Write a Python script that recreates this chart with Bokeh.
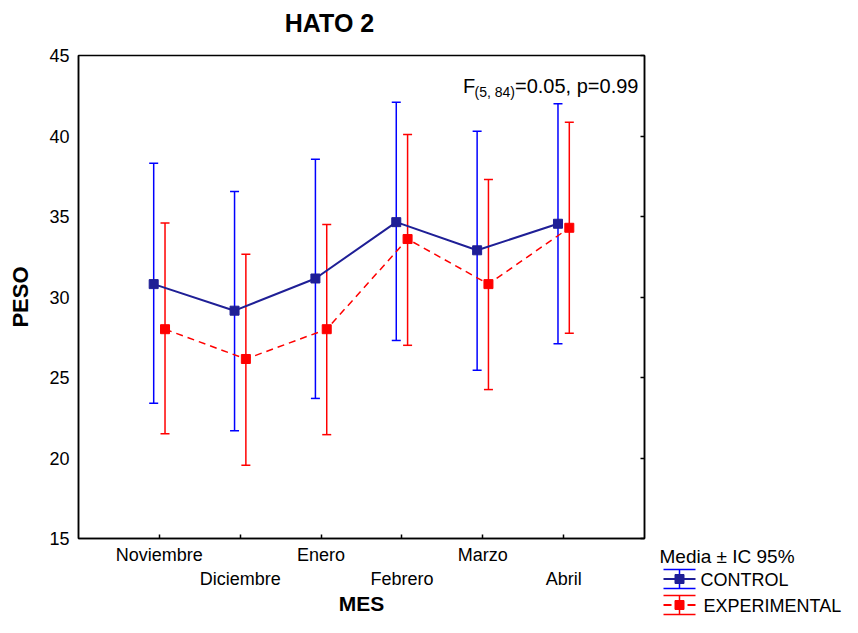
from bokeh.plotting import figure
from bokeh.models import (Range1d, FixedTicker, LinearAxis, Whisker, TeeHead, ColumnDataSource, Label)
from bokeh.layouts import row, column
from bokeh.embed import file_html
from bokeh.resources import INLINE
from bokeh.core.properties import value

# ---- data ----
months = ["Noviembre", "Diciembre", "Enero", "Febrero", "Marzo", "Abril"]
control_mean = [30.8, 29.15, 31.15, 34.65, 32.9, 34.55]
control_upper = [38.3, 36.55, 38.55, 42.1, 40.3, 42.0]
control_lower = [23.4, 21.7, 23.7, 27.3, 25.45, 27.1]
exp_mean = [28.0, 26.15, 28.0, 33.6, 30.8, 34.3]
exp_upper = [34.6, 32.65, 34.5, 40.1, 37.3, 40.85]
exp_lower = [21.5, 19.55, 21.45, 27.0, 24.25, 27.75]
y_ticks = [15, 20, 25, 30, 35, 40, 45]
chart_title = "HATO 2"
legend_title = "Media \u00b1 IC 95%"
series_names = ["CONTROL", "EXPERIMENTAL"]

FONT = "Liberation Sans"
BLUE = "#0000FF"
NAVY = "#1F1F96"
RED = "#FF0000"

cats = list(range(1, len(months) + 1))
dx = 0.07
xc = [c - dx for c in cats]
xe = [c + dx for c in cats]

W, H = 842, 617
TH = 40                              # height of the title strip
FL, FR, FT, FB = 78, 644, 55, 538    # frame edges in page pixels
MAIN_W = 648
MH = H - TH

def no_align(fig):
    if "frame_align" in fig.properties():
        fig.frame_align = False

# ---- title strip ----
tf = figure(width=W, height=TH, x_range=Range1d(0, W), y_range=Range1d(TH, 0),
            toolbar_location=None, output_backend="svg", x_axis_type=None, y_axis_type=None,
            min_border=0, min_border_left=0, min_border_right=0, min_border_top=0, min_border_bottom=0)
no_align(tf)
tf.grid.visible = False
tf.outline_line_color = None
tf.title.visible = False
tf.text(x=[329], y=[22], text=[chart_title], text_font=value(FONT), text_font_size="25px",
        text_font_style="bold", text_baseline="middle", text_align="center", text_color="black")

# ---- main plot ----
p = figure(width=MAIN_W, height=MH, x_range=Range1d(0, 7), y_range=Range1d(15, 45),
           toolbar_location=None, output_backend="svg",
           min_border_left=FL, min_border_right=MAIN_W - FR, min_border_top=FT - TH,
           min_border_bottom=H - FB)
no_align(p)
p.title.visible = False
p.grid.visible = False
p.outline_line_color = "black"
p.outline_line_width = 1.5
p.background_fill_color = "white"
p.border_fill_color = "white"

def fx(sx):
    return (sx - FL) / (FR - FL) * 7.0
def fy(sy):
    return 15 + (FB - sy) / (FB - FT) * 30.0

# x axis
xa = p.xaxis[0]
xa.ticker = FixedTicker(ticks=cats)
xa.major_label_overrides = {c: (m if i % 2 == 0 else "\n" + m) for i, (c, m) in enumerate(zip(cats, months))}
xa.major_label_text_font = FONT
xa.major_label_text_font_size = "18px"
xa.major_label_text_color = "black"
xa.major_label_text_line_height = 1.22
xa.major_label_standoff = 6
xa.major_tick_in = 4
xa.major_tick_out = 0
xa.minor_tick_line_color = None
xa.axis_line_width = 1.5
xa.axis_line_color = "black"
xa.major_tick_line_width = 1.5
xa.axis_label = "MES"
xa.axis_label_text_font = FONT
xa.axis_label_text_font_size = "21px"
xa.axis_label_text_font_style = "bold"
xa.axis_label_text_color = "black"
xa.axis_label_text_line_height = 1.0
xa.axis_label_standoff = 0

# y axis
ya = p.yaxis[0]
ya.ticker = FixedTicker(ticks=y_ticks)
ya.major_label_text_font = FONT
ya.major_label_text_font_size = "18px"
ya.major_label_text_color = "black"
ya.major_label_standoff = 9
ya.major_tick_in = 0
ya.major_tick_out = 0
ya.minor_tick_line_color = None
ya.axis_line_width = 1.5
ya.axis_line_color = "black"
ya.axis_label = "PESO"
ya.axis_label_text_font = FONT
ya.axis_label_text_font_size = "22px"
ya.axis_label_text_font_style = "bold"
ya.axis_label_text_color = "black"
ya.axis_label_standoff = 13

ra = LinearAxis(ticker=FixedTicker(ticks=y_ticks), major_label_overrides={t: "" for t in y_ticks},
                major_label_standoff=0, major_tick_in=4, major_tick_out=0,
                minor_tick_line_color=None, axis_line_width=1.5, major_tick_line_width=1.5)
p.add_layout(ra, "right")

# error bars
src_c = ColumnDataSource(dict(x=xc, m=control_mean, up=control_upper, lo=control_lower))
src_e = ColumnDataSource(dict(x=xe, m=exp_mean, up=exp_upper, lo=exp_lower))
for src, col in ((src_c, BLUE), (src_e, RED)):
    w = Whisker(source=src, base="x", upper="up", lower="lo", dimension="height",
                line_color=col, line_width=1.5,
                upper_head=TeeHead(size=9, line_color=col, line_width=1.5),
                lower_head=TeeHead(size=9, line_color=col, line_width=1.5))
    p.add_layout(w)

p.line("x", "m", source=src_c, line_color=NAVY, line_width=2)
p.line("x", "m", source=src_e, line_color=RED, line_width=1.5, line_dash="7 5")
p.scatter("x", "m", source=src_c, marker="square", size=9, fill_color=NAVY, line_color=NAVY)
p.scatter("x", "m", source=src_e, marker="square", size=9, fill_color=RED, line_color=RED)

# annotation (inside frame), placed by the vertical middle of the capitals
p.add_layout(Label(x=fx(462.5), y=fy(85), text="F", text_font=FONT, text_font_size="20px",
                   text_baseline="middle", text_color="black"))
p.add_layout(Label(x=fx(474), y=fy(91), text="(5, 84)", text_font=FONT, text_font_size="14px",
                   text_baseline="middle", text_color="black"))
p.add_layout(Label(x=fx(514.5), y=fy(85), text="=0.05, p=0.99", text_font=FONT, text_font_size="20px",
                   text_baseline="middle", text_color="black"))

# ---- legend, drawn in a side figure whose frame is the whole canvas ----
LW = W - MAIN_W
lg = figure(width=LW, height=MH, x_range=Range1d(0, LW), y_range=Range1d(MH, 0),
            toolbar_location=None, output_backend="svg", x_axis_type=None, y_axis_type=None,
            min_border=0, min_border_left=0, min_border_right=0, min_border_top=0, min_border_bottom=0)
no_align(lg)
lg.title.visible = False
lg.grid.visible = False
lg.outline_line_color = None
lg.background_fill_color = "white"
lg.border_fill_color = "white"

def lx(sx):
    return sx - MAIN_W
def ly(sy):
    return sy - TH

lg.text(x=[lx(659)], y=[ly(555.5)], text=[legend_title], text_font=value(FONT), text_font_size="19px",
        text_baseline="middle", text_align="left", text_color="black")
rows_y = [578.5, 604.5]
label_x = [700, 703]
styles = [(BLUE, NAVY, [(663, 695)]), (RED, RED, [(663, 671), (687, 695)])]
for name, cy, tx, (ecol, mcol, pieces) in zip(series_names, rows_y, label_x, styles):
    lg.segment(x0=[lx(663), lx(663), lx(679)], y0=[ly(cy - 9.5), ly(cy + 9.5), ly(cy - 9.5)],
               x1=[lx(695), lx(695), lx(679)], y1=[ly(cy - 9.5), ly(cy + 9.5), ly(cy + 9.5)],
               line_color=ecol, line_width=1.5)
    lg.segment(x0=[lx(a) for a, b in pieces], y0=[ly(cy)] * len(pieces),
               x1=[lx(b) for a, b in pieces], y1=[ly(cy)] * len(pieces),
               line_color=mcol, line_width=2)
    lg.scatter(x=[lx(679)], y=[ly(cy)], marker="square", size=9, fill_color=mcol, line_color=mcol)
    lg.text(x=[lx(tx)], y=[ly(cy + 1)], text=[name], text_font=value(FONT), text_font_size="18px",
            text_baseline="middle", text_align="left", text_color="black")

layout = column(tf, row(p, lg))
open("out.html", "w").write(file_html(layout, INLINE))
